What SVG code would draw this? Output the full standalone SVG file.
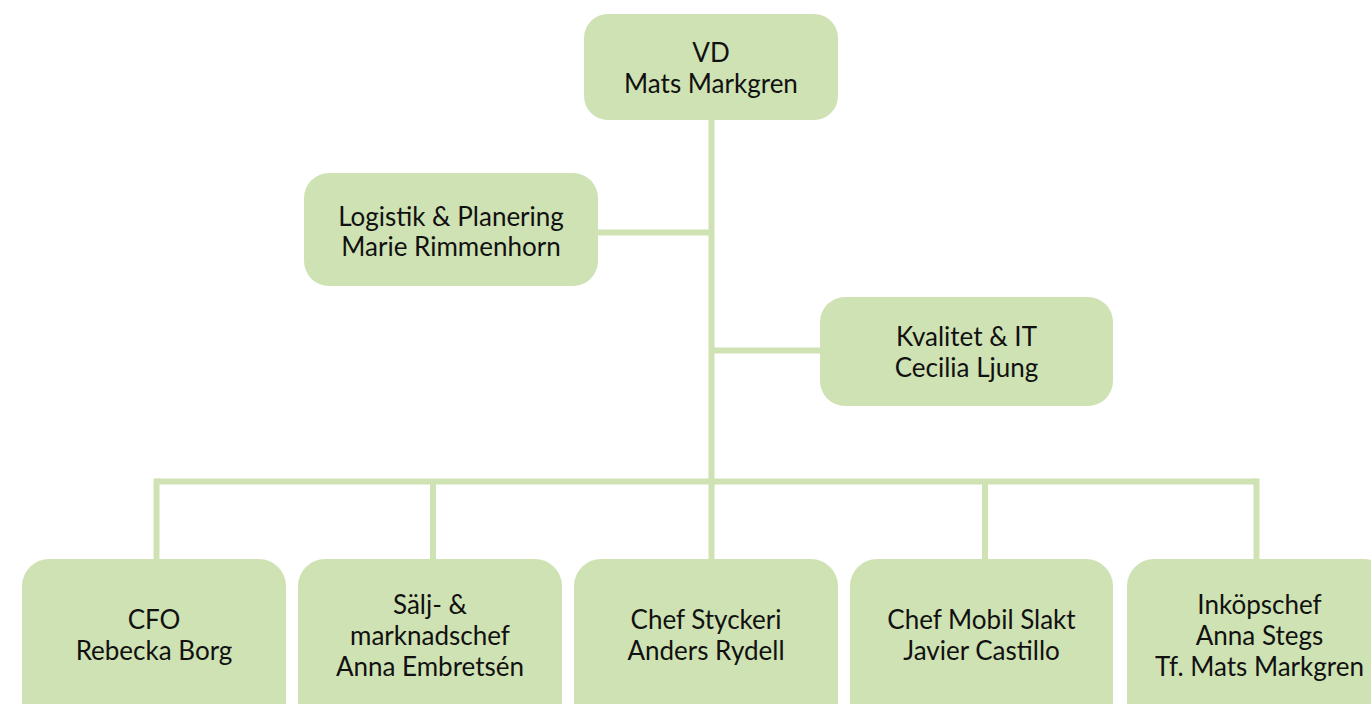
<svg xmlns="http://www.w3.org/2000/svg" width="1371" height="704" viewBox="0 0 1371 704">
<style>
.box{fill:#cfe2b3;}
.conn{stroke:#cfe2b3;stroke-width:6;fill:none;}
text{font-family:Lato,"Liberation Sans",sans-serif;font-size:26px;fill:#111;text-anchor:middle;}
</style>
<rect width="1371" height="704" fill="#fff"/>
<g id="connectors">
<path class="conn" d="M711.5 118 V560"/>
<path class="conn" d="M596 232.5 H711.5"/>
<path class="conn" d="M711.5 350.5 H822"/>
<path class="conn" d="M156.5 481.5 H1256.5"/>
<path class="conn" d="M156.5 478.5 V561"/>
<path class="conn" d="M433 481.5 V561"/>
<path class="conn" d="M985 481.5 V561"/>
<path class="conn" d="M1256.5 478.5 V561"/>
</g>
<g id="vd">
<rect class="box" x="584" y="14" width="254" height="106" rx="24"/>
<text x="711" y="62">VD</text>
<text x="711" y="93">Mats Markgren</text>
</g>
<g id="logistik">
<rect class="box" x="304" y="173" width="294" height="113" rx="25"/>
<text x="451" y="225.5">Logistik &amp; Planering</text>
<text x="451" y="256">Marie Rimmenhorn</text>
</g>
<g id="kvalitet">
<rect class="box" x="820" y="297" width="293" height="109" rx="25"/>
<text x="966.5" y="346">Kvalitet &amp; IT</text>
<text x="966.5" y="377">Cecilia Ljung</text>
</g>
<g id="cfo">
<rect class="box" x="22" y="559" width="264" height="170" rx="27"/>
<text x="154" y="629">CFO</text>
<text x="154" y="660">Rebecka Borg</text>
</g>
<g id="salj">
<rect class="box" x="298" y="559" width="264" height="170" rx="27"/>
<text x="430" y="613.5">Sälj- &amp;</text>
<text x="430" y="644.5">marknadschef</text>
<text x="430" y="675.5">Anna Embretsén</text>
</g>
<g id="styckeri">
<rect class="box" x="574" y="559" width="264" height="170" rx="27"/>
<text x="706" y="629">Chef Styckeri</text>
<text x="706" y="660">Anders Rydell</text>
</g>
<g id="mobil">
<rect class="box" x="850" y="559" width="263" height="170" rx="27"/>
<text x="981.5" y="629">Chef Mobil Slakt</text>
<text x="981.5" y="660">Javier Castillo</text>
</g>
<g id="inkop">
<rect class="box" x="1127" y="559" width="264" height="170" rx="27"/>
<text x="1259.5" y="613.5">Inköpschef</text>
<text x="1259.5" y="644.5">Anna Stegs</text>
<text x="1259.5" y="675.5">Tf. Mats Markgren</text>
</g>
</svg>
